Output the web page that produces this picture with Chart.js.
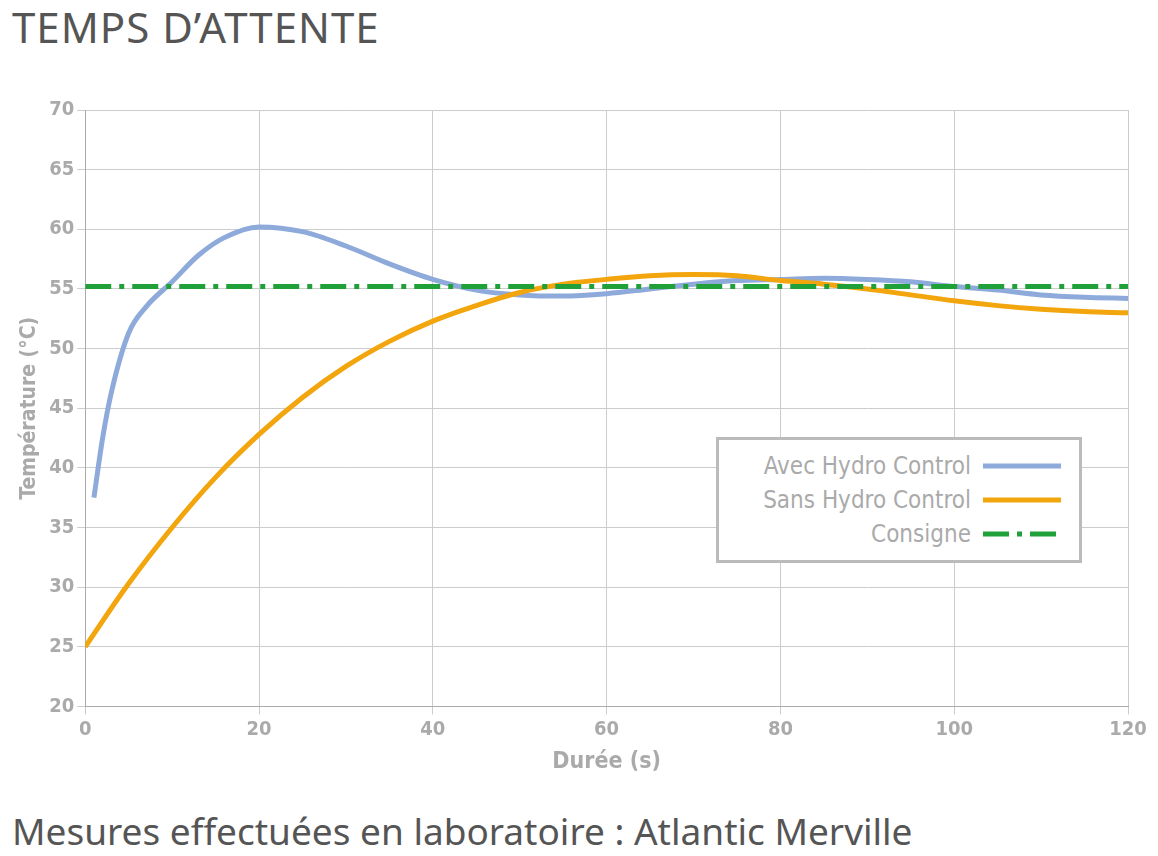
<!DOCTYPE html>
<html>
<head>
<meta charset="utf-8">
<script src="https://cdn.jsdelivr.net/npm/chart.js"></script>
<style>
  body { margin: 0; background: #fff; font-family: 'Noto Sans', sans-serif; width: 1158px; height: 856px; position: relative; overflow: hidden; }
  .title { position: absolute; left: 12px; top: -2px; font-size: 42px; color: #555; letter-spacing: 1px; }
  .foot { position: absolute; left: 12px; top: 805px; font-size: 37px; color: #555; }
  .wrap { position: absolute; left: 0; top: 95px; width: 1158px; height: 685px; }
  .legend { position: absolute; left: 716px; top: 437px; width: 360px; height: 120px; border: 3px solid #bbb; background: #fff;
            font-family: 'DejaVu Sans Condensed', sans-serif; font-size: 24px; color: #aaa; }
  .legend .row { position: absolute; right: 18px; display: flex; align-items: center; }
  .legend canvas { margin-left: 12px; }
</style>
</head>
<body>
<div class="title">TEMPS D’ATTENTE</div>
<div class="wrap"><canvas id="c"></canvas></div>
<div class="legend" id="legend"></div>
<div class="foot">Mesures effectuées en laboratoire : Atlantic Merville</div>
<script>
// --- DATA ---
const avecX = [1, 2, 3, 5, 7, 10, 13, 16, 20, 25, 30, 35, 40, 45, 50, 55, 60, 65, 70, 75, 80, 85, 90, 95, 100, 105, 110, 115, 120];
const avecY = [37.5, 42.5, 46.3, 51.3, 53.5, 55.6, 57.8, 59.3, 60.2, 59.8, 58.6, 57.1, 55.8, 54.9, 54.5, 54.4, 54.6, 55, 55.4, 55.7, 55.8, 55.9, 55.8, 55.6, 55.2, 54.9, 54.5, 54.3, 54.2];
const sansX = [0, 5, 10, 15, 20, 25, 30, 35, 40, 45, 50, 55, 60, 65, 70, 75, 80, 85, 90, 95, 100, 105, 110, 115, 120];
const sansY = [25, 30.3, 35, 39.2, 42.8, 45.9, 48.5, 50.6, 52.3, 53.6, 54.7, 55.4, 55.8, 56.1, 56.2, 56.1, 55.7, 55.4, 55, 54.5, 54, 53.6, 53.3, 53.1, 53];
const consigneX = [0, 120];
const consigneY = [55.2, 55.2];
const seriesNames = ['Avec Hydro Control', 'Sans Hydro Control', 'Consigne'];
const colors = ['#8eaadb', '#f2a50c', '#1fa038'];

const pts = (xs, ys) => xs.map((x, i) => ({ x: x, y: ys[i] }));
const tickFont = { family: 'DejaVu Sans Condensed', size: 20, weight: 'bold' };

new Chart(document.getElementById('c'), {
  type: 'line',
  data: {
    datasets: [
      { label: seriesNames[2], data: pts(consigneX, consigneY), borderColor: colors[2], borderWidth: 5, borderDash: [26, 8, 5, 8], pointRadius: 0 },
      { label: seriesNames[1], data: pts(sansX, sansY), borderColor: colors[1], borderWidth: 5, tension: 0.4, pointRadius: 0 },
      { label: seriesNames[0], data: pts(avecX, avecY), borderColor: colors[0], borderWidth: 5, cubicInterpolationMode: 'monotone', pointRadius: 0 }
    ]
  },
  options: {
    responsive: true, maintainAspectRatio: false, animation: false,
    layout: { padding: { left: 13, right: 30, top: 10, bottom: 0 } },
    plugins: { legend: { display: false }, tooltip: { enabled: false } },
    scales: {
      x: { type: 'linear', min: 0, max: 120,
           ticks: { stepSize: 20, color: '#aaa', font: tickFont },
           grid: { color: '#ccc', lineWidth: 1 }, border: { color: '#aaa' },
           title: { display: true, text: 'Durée (s)', color: '#aaa', font: { family: 'DejaVu Sans Condensed', size: 23, weight: 'bold' } } },
      y: { min: 20, max: 70,
           ticks: { stepSize: 5, color: '#aaa', font: tickFont },
           grid: { color: '#ccc', lineWidth: 1 }, border: { color: '#aaa' },
           title: { display: true, text: 'Température (°C)', color: '#aaa', font: { family: 'DejaVu Sans Condensed', size: 21, weight: 'bold' } } }
    }
  }
});

// legend box
const legend = document.getElementById('legend');
const dashes = [[], [], [26, 8, 5, 8]];
[0, 1, 2].forEach(i => {
  const row = document.createElement('div');
  row.className = 'row';
  row.style.top = (12 + i * 34) + 'px';
  const span = document.createElement('span');
  span.textContent = seriesNames[i];
  const cv = document.createElement('canvas');
  cv.width = 78; cv.height = 10;
  const g = cv.getContext('2d');
  g.strokeStyle = colors[i]; g.lineWidth = 5; g.setLineDash(dashes[i]);
  g.beginPath(); g.moveTo(0, 5); g.lineTo(78, 5); g.stroke();
  row.appendChild(span); row.appendChild(cv);
  legend.appendChild(row);
});
</script>
</body>
</html>
